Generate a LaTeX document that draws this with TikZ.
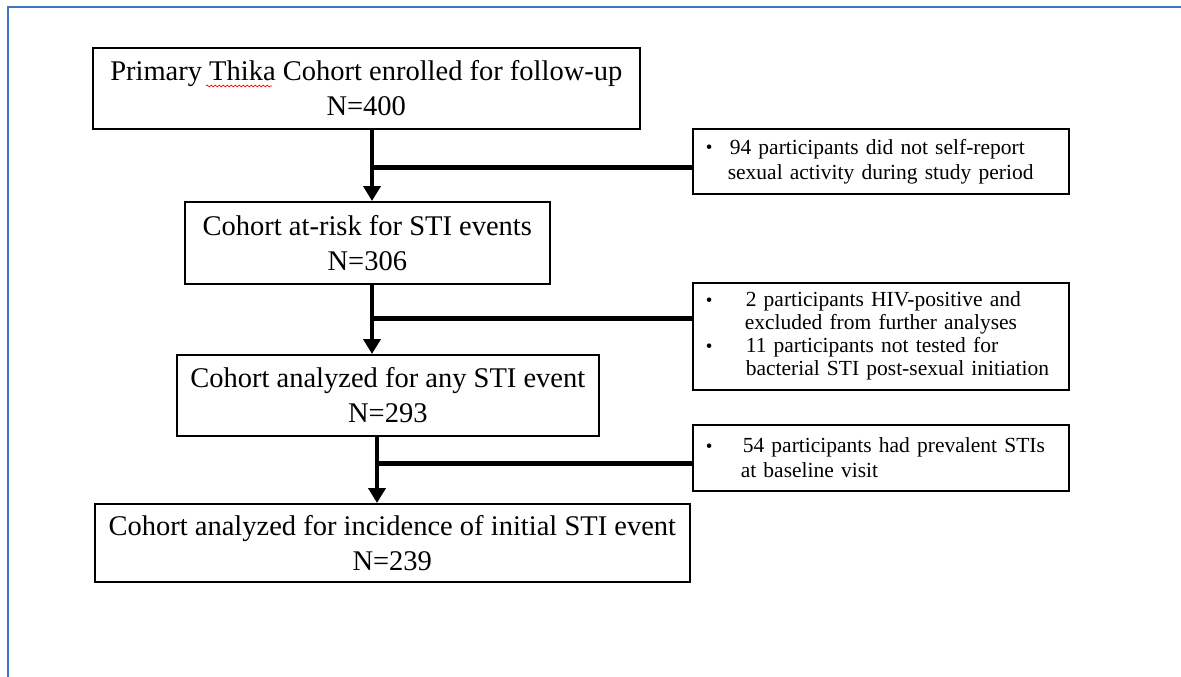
\documentclass[tikz,border=0pt]{standalone}
\usepackage{fontspec}
\setmainfont{Liberation Serif}
\usetikzlibrary{arrows.meta,decorations.pathmorphing}
\definecolor{frameblue}{RGB}{68,114,196}
\newcommand{\exbul}{\raisebox{0.5pt}{\fontsize{19}{19}\selectfont\textbullet}}
\begin{document}
\begin{tikzpicture}[x=1pt,y=-1pt,
  mainbox/.style={draw=black,line width=1.6pt,inner sep=0pt,align=center,
    anchor=north west,font=\fontsize{28.5}{35}\selectfont},
  exclbox/.style={draw=black,line width=1.6pt,inner sep=0pt,anchor=north west,
    minimum width=376pt,text width=376pt,align=left,font=\fontsize{21.5}{23}\selectfont},
  wide/.style={font=\fontsize{21.5}{25}\selectfont},
  flow/.style={line width=4.5pt,-{Triangle[width=17pt,length=15pt]}},
  branch/.style={line width=5pt},
  frameline/.style={draw=frameblue,line width=2.5pt},
  spell/.style={draw=red,line width=0.7pt,decorate,
    decoration={snake,amplitude=0.9pt,segment length=4pt}}]
\useasboundingbox (0,0) rectangle (1181,677);
% frame (only left and top edges visible)
\draw[frameline] (8,677) -- (8,7) -- (1181,7);

% main boxes
\node[mainbox,minimum width=547pt,minimum height=81pt] (b1) at (92,47)
  {Primary Thika Cohort enrolled for follow-up\\N=400};
\node[mainbox,minimum width=365pt,minimum height=82pt] (b2) at (184,201)
  {Cohort at-risk for STI events\\N=306};
\node[mainbox,minimum width=422pt,minimum height=81pt] (b3) at (176,354)
  {Cohort analyzed for any STI event\\N=293};
\node[mainbox,minimum width=595pt,minimum height=78pt] (b4) at (94,503)
  {Cohort analyzed for incidence of initial STI event\\N=239};

% exclusion boxes
\node[exclbox,wide,minimum height=65pt] (e1) at (692,128)
  {\hspace*{13pt}\makebox[24pt][l]{\exbul}94 participants did not self-report\\
   \hspace*{35pt}sexual activity during study period};
\node[exclbox,minimum height=107pt] (e2) at (692,282)
  {\hspace*{13pt}\makebox[40pt][l]{\exbul}2 participants HIV-positive and\\
   \hspace*{52pt}excluded from further analyses\\
   \hspace*{13pt}\makebox[40pt][l]{\exbul}11 participants not tested for\\
   \hspace*{53pt}bacterial STI post-sexual initiation};
\node[exclbox,wide,minimum height=66pt] (e3) at (692,424)
  {\hspace*{13pt}\makebox[37pt][l]{\exbul}54 participants had prevalent STIs\\
   \hspace*{48pt}at baseline visit};

% spell-check underline under "Thika"
\draw[spell] (206,86) -- (272,86);

% connectors
\coordinate (a1) at (372,0);
\coordinate (a3) at (377,0);
\coordinate (j1) at (372,167);
\coordinate (j2) at (372,318);
\coordinate (j3) at (377,463);
\draw[flow] (a1 |- b1.south) -- (a1 |- b2.north);
\draw[branch] (j1) -- (j1 -| e1.west);
\draw[flow] (a1 |- b2.south) -- (a1 |- b3.north);
\draw[branch] (j2) -- (j2 -| e2.west);
\draw[flow] (a3 |- b3.south) -- (a3 |- b4.north);
\draw[branch] (j3) -- (j3 -| e3.west);
\end{tikzpicture}
\end{document}
